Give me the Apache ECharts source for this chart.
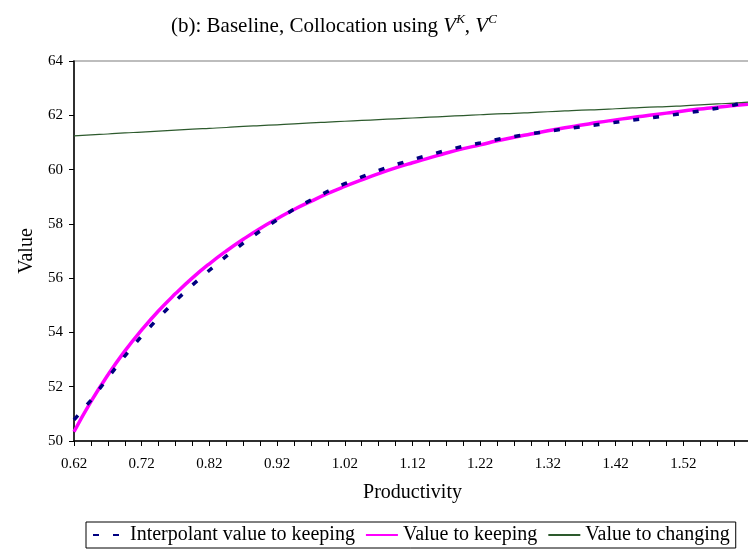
<!DOCTYPE html>
<html>
<head>
<meta charset="utf-8">
<script src="https://cdn.jsdelivr.net/npm/echarts@6/dist/echarts.min.js"></script>
<style>
html,body{margin:0;padding:0;background:#fff;}
#chart{width:748px;height:555px;}
</style>
</head>
<body>
<div id="chart"></div>
<script>
// Productivity grid (x values)
const productivity = [0.620,0.645,0.670,0.695,0.720,0.745,0.770,0.795,0.820,0.845,
  0.870,0.895,0.920,0.945,0.970,0.995,1.020,1.045,1.070,1.095,
  1.120,1.145,1.170,1.195,1.220,1.245,1.270,1.295,1.320,1.345,
  1.370,1.395,1.420,1.445,1.470,1.495,1.520,1.545,1.570,1.595,1.620];

const interpolantKeeping = [50.78,51.50,52.33,53.13,53.87,54.55,55.17,55.75,56.29,56.81,
  57.29,57.74,58.15,58.54,58.88,59.20,59.48,59.73,59.97,60.18,
  60.37,60.54,60.71,60.86,60.98,61.11,61.22,61.32,61.41,61.50,
  61.58,61.66,61.74,61.82,61.90,61.98,62.07,62.16,62.26,62.38,62.54];

const valueKeeping = [50.34,51.45,52.43,53.31,54.09,54.80,55.43,56.01,56.53,57.00,
  57.43,57.83,58.19,58.53,58.83,59.12,59.38,59.62,59.85,60.06,
  60.25,60.43,60.61,60.77,60.91,61.06,61.19,61.31,61.43,61.54,
  61.64,61.74,61.83,61.92,62.00,62.08,62.16,62.23,62.30,62.36,62.42];

const valueChanging = [61.24,61.28,61.31,61.35,61.38,61.42,61.45,61.49,61.52,61.55,
  61.59,61.62,61.65,61.68,61.72,61.75,61.78,61.81,61.84,61.87,
  61.90,61.93,61.96,61.99,62.02,62.05,62.07,62.10,62.13,62.16,
  62.19,62.21,62.24,62.27,62.30,62.32,62.35,62.38,62.42,62.45,62.49];

const seriesNames = ['Interpolant value to keeping','Value to keeping','Value to changing'];

const pair = arr => productivity.map((x,i) => [x, arr[i]]);
const FONT = '"Liberation Serif","Times New Roman",serif';

const chart = echarts.init(document.getElementById('chart'), null, {renderer:'canvas'});
chart.setOption({
  animation: false,
  backgroundColor: '#fff',
  title: {
    text: '(b): Baseline, Collocation using {v|V}{s|K}, {v|V}{s|C}',
    left: 166, top: 8,
    textStyle: {
      fontFamily: FONT, fontSize: 21, fontWeight: 'normal', color: '#000', lineHeight: 26,
      rich: {
        v: {fontFamily: FONT, fontSize: 21, fontStyle: 'italic', color: '#000', lineHeight: 26},
        s: {fontFamily: FONT, fontSize: 13, fontStyle: 'italic', color: '#000', verticalAlign: 'top', lineHeight: 26, padding:[0,0,10,0]}
      }
    }
  },
  grid: {
    left: 74, top: 61, width: 677, height: 380,
    containLabel: false,
    outerBoundsMode: 'none',
    show: true, borderColor: '#bdbdbd', borderWidth: 2, backgroundColor: '#fff'
  },
  legend: {
    data: seriesNames,
    left: 86, top: 522,
    orient: 'horizontal',
    borderColor: '#000', borderWidth: 1,
    padding: [3, 6, 3, 6],
    itemGap: 10, itemWidth: 32, itemHeight: 14,
    itemStyle: {opacity: 0},
    textStyle: {fontFamily: FONT, fontSize: 20, color: '#000'}
  },
  xAxis: {
    type: 'value',
    min: 0.62, max: 1.62, interval: 0.1,
    name: 'Productivity', nameLocation: 'middle', nameGap: 42,
    nameTextStyle: {fontFamily: FONT, fontSize: 20, color: '#000'},
    axisLine: {show: true, onZero: false, lineStyle: {color: '#000', width: 1.5}},
    axisTick: {show: true, length: 5, inside: false, lineStyle: {color: '#000', width: 1}},
    minorTick: {show: true, splitNumber: 4, length: 5, lineStyle: {color: '#000', width: 1}},
    splitLine: {show: false},
    minorSplitLine: {show: false},
    axisLabel: {
      fontFamily: FONT, fontSize: 15, color: '#000', margin: 16,
      showMaxLabel: false,
      formatter: v => v.toFixed(2)
    }
  },
  yAxis: {
    type: 'value',
    min: 50, max: 64, interval: 2,
    name: 'Value', nameLocation: 'middle', nameGap: 35, nameRotate: 90,
    nameTextStyle: {fontFamily: FONT, fontSize: 20, color: '#000'},
    axisLine: {show: true, lineStyle: {color: '#000', width: 1.5}},
    axisTick: {show: true, length: 5, inside: false, lineStyle: {color: '#000', width: 1}},
    splitLine: {show: false},
    axisLabel: {fontFamily: FONT, fontSize: 15, color: '#000', margin: 11}
  },
  series: [
    {
      name: seriesNames[0], type: 'line', data: pair(interpolantKeeping),
      showSymbol: false, symbol: 'none', smooth: false, z: 5,
      lineStyle: {color: '#000080', width: 3.5, type: [6, 14], cap: 'butt'},
      itemStyle: {color: '#000080'}
    },
    {
      name: seriesNames[1], type: 'line', data: pair(valueKeeping),
      showSymbol: false, symbol: 'none', smooth: true, z: 3,
      lineStyle: {color: '#ff00ff', width: 3.5},
      itemStyle: {color: '#ff00ff'}
    },
    {
      name: seriesNames[2], type: 'line', data: pair(valueChanging),
      showSymbol: false, symbol: 'none', smooth: true, z: 4,
      lineStyle: {color: '#2d5a2d', width: 1.2},
      itemStyle: {color: '#2d5a2d'}
    }
  ]
});
</script>
</body>
</html>
